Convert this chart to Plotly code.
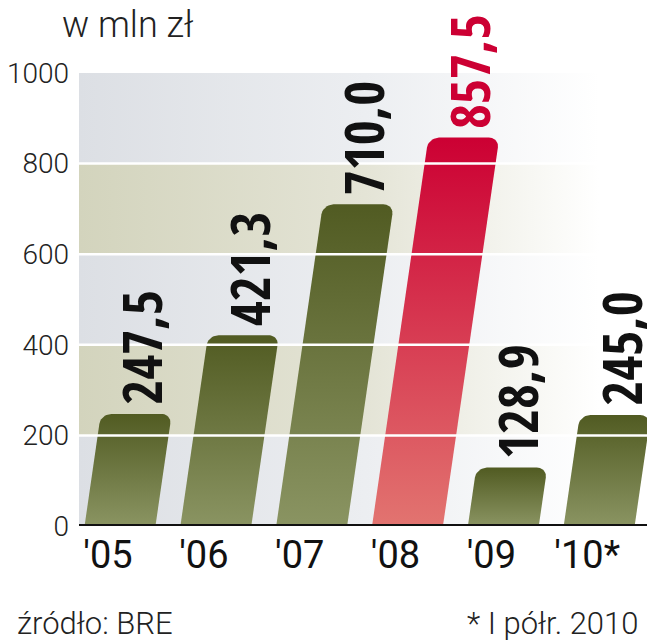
import math
import plotly.graph_objects as go

# ---- data ----
categories = ["'05", "'06", "'07", "'08", "'09", "'10*"]
values = [247.5, 421.3, 710.0, 857.5, 128.9, 245.0]
value_labels = ["247,5", "421,3", "710,0", "857,5", "128,9", "245,0"]
highlight = "'08"
y_ticks = [0, 200, 400, 600, 800, 1000]
title_text = "w mln zł"
source_text = "źródło: BRE"
note_text = "* I półr. 2010"

# ---- style ----
LIGHT = "Roboto, Liberation Sans, sans-serif"
BOLD_C = "Open Sans Condensed, Roboto Condensed, sans-serif"
X_MIN, X_MAX = -0.428, 5.52
SLANT = 0.000686      # x-units per value unit (bars lean right)
BAR_W = 0.74
RX, RY = 0.11, 22     # rounded corner radius in data units

fig = go.Figure()

# background bands fading to white
band_cols = ["#dcdfe4", "#d3d4bd"]
band_mid = ["#eceef1", "#e4e4d6"]
for k in range(len(y_ticks) - 1):
    y0, y1 = y_ticks[k], y_ticks[k + 1]
    c = band_cols[k % 2]
    m = band_mid[k % 2]
    fig.add_trace(go.Scatter(
        x=[X_MIN, X_MAX, X_MAX, X_MIN, X_MIN], y=[y0, y0, y1, y1, y0],
        mode="lines", fill="toself", line=dict(width=0),
        fillgradient=dict(type="horizontal",
                          colorscale=[[0, c], [0.55, m], [1, "#ffffff"]],
                          start=X_MIN, stop=5.0),
        hoverinfo="skip", showlegend=False))


def bar_polygon(i, v):
    xs, ys = [], []
    xl, xr = i - BAR_W / 2, i + BAR_W / 2
    xs += [xl, xr]
    ys += [0, 0]
    n = 10
    for j in range(n + 1):
        t = math.pi / 2 * j / n
        y = v - RY + RY * math.sin(t)
        x = xr - RX + RX * math.cos(t) + SLANT * y
        xs.append(x); ys.append(y)
    for j in range(n + 1):
        t = math.pi / 2 + math.pi / 2 * j / n
        y = v - RY + RY * math.sin(t)
        x = xl + RX + RX * math.cos(t) + SLANT * y
        xs.append(x); ys.append(y)
    xs.append(xl); ys.append(0)
    return xs, ys


for i, (cat, v) in enumerate(zip(categories, values)):
    xs, ys = bar_polygon(i, v)
    if cat == highlight:
        cs = [[0, "#e27470"], [1, "#cc0033"]]
    else:
        cs = [[0, "#8a9462"], [1, "#515b22"]]
    fig.add_trace(go.Scatter(
        x=xs, y=ys, mode="lines", fill="toself", line=dict(width=0),
        fillgradient=dict(type="vertical", colorscale=cs),
        hoverinfo="skip", showlegend=False))

# value labels
for i, (cat, v, lab) in enumerate(zip(categories, values, value_labels)):
    fig.add_annotation(
        x=i + SLANT * v, y=v, text=lab, showarrow=False, textangle=-90,
        xanchor="center", yanchor="bottom", xshift=5, yshift=7,
        font=dict(family=BOLD_C, size=54, weight="bold",
                  color="#cc0033" if cat == highlight else "#111111"))

# white grid lines over bars
for t in y_ticks[1:-1]:
    fig.add_shape(type="line", xref="paper", x0=0, x1=1, y0=t, y1=t,
                  line=dict(color="white", width=2.5), layer="above")
# zero line
fig.add_shape(type="line", xref="paper", x0=0, x1=1, y0=0, y1=0,
              line=dict(color="#111111", width=4), layer="above")

# title + footer
fig.add_annotation(xref="paper", yref="paper", x=-0.034, y=1.107,
                   xanchor="left", yanchor="middle", text=title_text,
                   showarrow=False,
                   font=dict(family=LIGHT, size=36, weight=300, color="#222"))
fig.add_annotation(xref="paper", yref="paper", x=-0.113, y=-0.2145,
                   xanchor="left", yanchor="middle", text=source_text,
                   showarrow=False,
                   font=dict(family=LIGHT, size=31, weight=300, color="#222"))
fig.add_annotation(xref="paper", yref="paper", x=0.984, y=-0.2145,
                   xanchor="right", yanchor="middle", text=note_text,
                   showarrow=False,
                   font=dict(family=LIGHT, size=31, weight=300, color="#222"))

fig.update_layout(
    width=647, height=632, autosize=False,
    margin=dict(l=71, r=6, t=65, b=114),
    paper_bgcolor="white", plot_bgcolor="white",
    showlegend=False,
    xaxis=dict(range=[X_MIN, X_MAX], tickmode="array",
               tickvals=list(range(len(categories))), ticktext=categories,
               showgrid=False, zeroline=False, showline=False, automargin=False,
               ticks="", ticklabelshift=-12, ticklabelstandoff=3,
               tickfont=dict(family=LIGHT, size=38, weight=400, color="#111")),
    yaxis=dict(range=[0, 1000], tickmode="array", tickvals=y_ticks,
               showgrid=False, zeroline=False, showline=False, automargin=False,
               ticks="", ticklabelstandoff=9,
               tickfont=dict(family=LIGHT, size=28, weight=300, color="#222")),
)

fig.write_html("out.html")
